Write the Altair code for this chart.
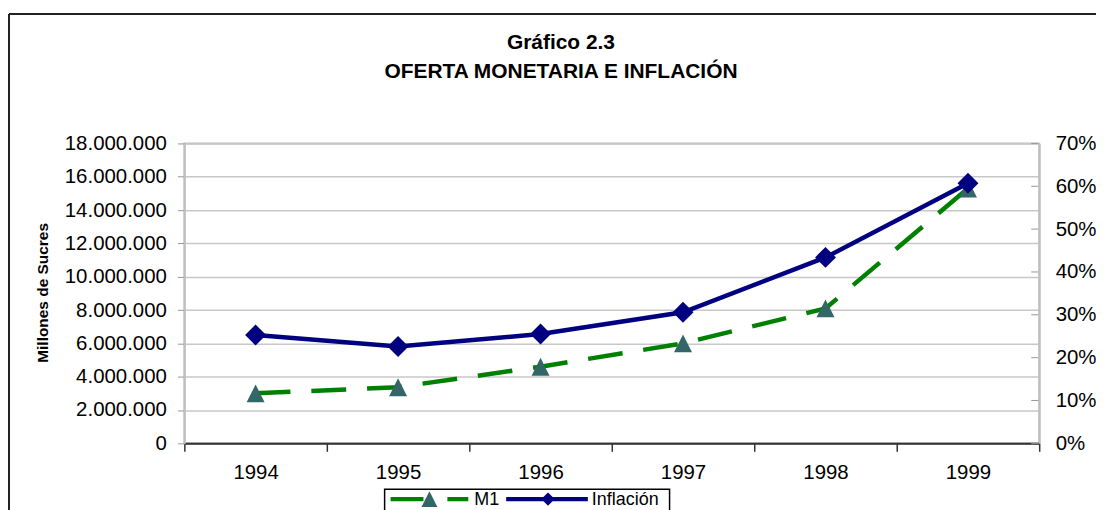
import altair as alt
import pandas as pd

# ---- data ----
years = ["1994", "1995", "1996", "1997", "1998", "1999"]
m1 = [3.0e6, 3.37e6, 4.6e6, 6.0e6, 8.1e6, 15.3e6]
inflacion = [0.253, 0.226, 0.255, 0.306, 0.434, 0.607]
m1_ticks = [0, 2e6, 4e6, 6e6, 8e6, 10e6, 12e6, 14e6, 16e6, 18e6]
pct_ticks = [0, 0.1, 0.2, 0.3, 0.4, 0.5, 0.6, 0.7]
title_lines = ["Gráfico 2.3", "OFERTA MONETARIA E INFLACIÓN"]
y_title = "Millones de Sucres"
legend_labels = ["M1", "Inflación"]

FONT = "Liberation Sans"
GREEN = "#008000"
TEAL = "#336666"
NAVY = "#000080"
TRI = "M0,-1L1,1L-1,1Z"
LFS = 20.5

df = pd.DataFrame({"year": years, "m1": m1, "inf": inflacion})
df_pt = pd.DataFrame({"pct": pct_ticks})
one = pd.DataFrame({"a": [0]})

x_enc = alt.X(
    "year:O",
    bandPosition=0.5,
    scale=alt.Scale(type="band", paddingInner=0, paddingOuter=0),
    axis=alt.Axis(
        title=None, tickBand="extent", labelAngle=0, labelFont=FONT, labelFontSize=LFS,
        labelColor="#000", labelPadding=11, tickSize=8, tickColor="#333", tickWidth=1.5,
        domainColor="#333", domainWidth=2, grid=False,
    ),
)

y_left = alt.Y(
    "m1:Q",
    scale=alt.Scale(domain=[0, 18e6], nice=False),
    axis=alt.Axis(
        values=m1_ticks,
        labelExpr="replace(replace(format(datum.value, ','), ',', '.'), ',', '.')",
        labelFont=FONT, labelFontSize=LFS, labelColor="#000", labelPadding=11,
        tickSize=7, tickColor="#999", tickWidth=1,
        domainColor="#bfbfbf", domainWidth=2,
        grid=True, gridColor="#c8c8c8", gridWidth=1.5,
        title=None,
    ),
)

right_axis = alt.Axis(
    orient="right", values=pct_ticks, format=".0%",
    labelFont=FONT, labelFontSize=LFS, labelColor="#000", labelPadding=16,
    tickSize=0, domainColor="#bfbfbf", domainWidth=2, grid=False, title=None,
)
y_right = alt.Y("inf:Q", scale=alt.Scale(domain=[0, 0.7], nice=False), axis=right_axis)

m1_line = alt.Chart(df).mark_line(color=GREEN, strokeWidth=4.5, strokeDash=[35, 21]).encode(x=x_enc, y=y_left)
m1_pts = alt.Chart(df).mark_point(shape=TRI, size=324, filled=True, color=TEAL, opacity=1).encode(x=x_enc, y=y_left)
m1_layer = alt.layer(m1_line, m1_pts)

inf_line = alt.Chart(df).mark_line(color=NAVY, strokeWidth=4.5).encode(x=x_enc, y=y_right)
inf_pts = alt.Chart(df).mark_point(shape="diamond", size=441, filled=True, color=NAVY, opacity=1).encode(x=x_enc, y=y_right)
inf_ticks = alt.Chart(df_pt).mark_rule(color="#999", strokeWidth=1).encode(
    y=alt.Y("pct:Q", scale=alt.Scale(domain=[0, 0.7], nice=False), axis=right_axis),
    x=alt.value(850), x2=alt.value(857),
)
inf_layer = alt.layer(inf_line, inf_pts, inf_ticks)

# ---- decorations: title, axis title, frame, legend ----
t1 = alt.Chart(one).mark_text(font=FONT, fontSize=21, fontWeight="bold", color="#000", align="center", baseline="middle").encode(
    x=alt.value(378), y=alt.value(-101), text=alt.value(title_lines[0]))
t2 = alt.Chart(one).mark_text(font=FONT, fontSize=21, fontWeight="bold", color="#000", align="center", baseline="middle").encode(
    x=alt.value(378), y=alt.value(-72), text=alt.value(title_lines[1]))
ytl = alt.Chart(one).mark_text(font=FONT, fontSize=15.5, fontWeight="bold", color="#000", align="center",
                               baseline="middle", angle=270).encode(
    x=alt.value(-142), y=alt.value(150), text=alt.value(y_title))
frame_top = alt.Chart(one).mark_rule(color="#222", strokeWidth=2).encode(
    x=alt.value(-176), x2=alt.value(920), y=alt.value(-130))
frame_left = alt.Chart(one).mark_rule(color="#222", strokeWidth=2).encode(
    x=alt.value(-176), y=alt.value(-130), y2=alt.value(400))

leg_box = alt.Chart(one).mark_rect(fill="white", stroke="#000", strokeWidth=1.5).encode(
    x=alt.value(201), x2=alt.value(487), y=alt.value(347), y2=alt.value(400))
leg_m1_line = alt.Chart(one).mark_rule(color=GREEN, strokeWidth=4.5, strokeDash=[33, 24]).encode(
    x=alt.value(207), x2=alt.value(285), y=alt.value(357))
leg_m1_pt = alt.Chart(one).mark_point(shape=TRI, size=256, filled=True, color=TEAL, opacity=1).encode(
    x=alt.value(246), y=alt.value(357))
leg_m1_txt = alt.Chart(one).mark_text(font=FONT, fontSize=18, color="#000", align="left", baseline="middle").encode(
    x=alt.value(291), y=alt.value(358), text=alt.value(legend_labels[0]))
leg_inf_line = alt.Chart(one).mark_rule(color=NAVY, strokeWidth=4.5).encode(
    x=alt.value(323), x2=alt.value(405), y=alt.value(357))
leg_inf_pt = alt.Chart(one).mark_point(shape="diamond", size=180, filled=True, color=NAVY, opacity=1).encode(
    x=alt.value(365), y=alt.value(357))
leg_inf_txt = alt.Chart(one).mark_text(font=FONT, fontSize=18, color="#000", align="left", baseline="middle").encode(
    x=alt.value(409), y=alt.value(358), text=alt.value(legend_labels[1]))

deco = alt.layer(t1, t2, ytl, frame_top, frame_left, leg_box, leg_m1_line, leg_m1_pt, leg_m1_txt,
                 leg_inf_line, leg_inf_pt, leg_inf_txt)

chart = alt.layer(m1_layer, inf_layer, deco).resolve_scale(y="independent").properties(
    width=858, height=301,
    padding={"left": 177, "top": 135, "right": 57, "bottom": 68},
    autosize=alt.AutoSizeParams(type="none"),
    background="white",
).configure_view(stroke="#bfbfbf", strokeWidth=2)

chart.save("out.html", embed_options={"renderer": "svg", "actions": False})
